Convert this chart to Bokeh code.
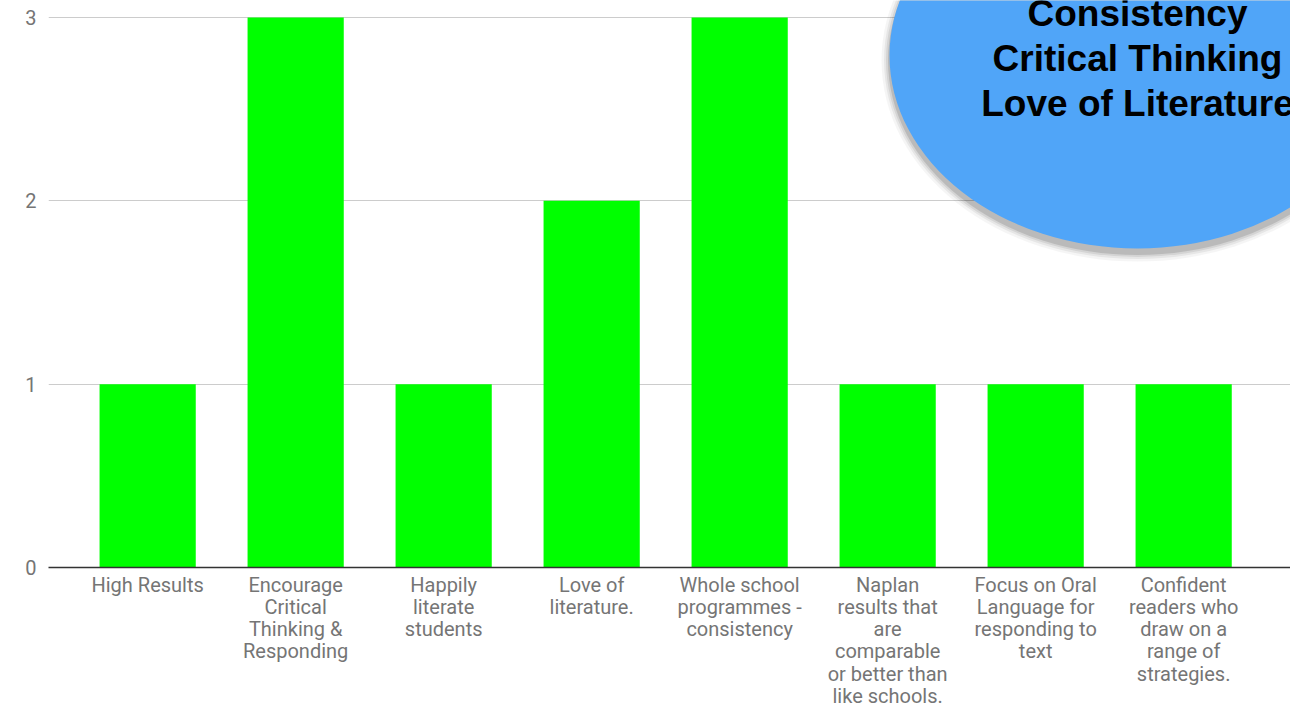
from bokeh.plotting import figure
from bokeh.models import Range1d, FixedTicker, Label
from bokeh.embed import file_html
from bokeh.resources import INLINE

# ---- data ----
categories = [
    "High Results",
    "Encourage Critical Thinking & Responding",
    "Happily literate students",
    "Love of literature.",
    "Whole school programmes - consistency",
    "Naplan results that are comparable or better than like schools.",
    "Focus on Oral Language for responding to text",
    "Confident readers who draw on a range of strategies.",
]
tick_labels = [
    "High Results",
    "Encourage\nCritical\nThinking &\nResponding",
    "Happily\nliterate\nstudents",
    "Love of\nliterature.",
    "Whole school\nprogrammes -\nconsistency",
    "Naplan\nresults that\nare\ncomparable\nor better than\nlike schools.",
    "Focus on Oral\nLanguage for\nresponding to\ntext",
    "Confident\nreaders who\ndraw on a\nrange of\nstrategies.",
]
values = [1, 3, 1, 2, 3, 1, 1, 1]
y_ticks = [0, 1, 2, 3]
callout_lines = ["Consistency", "Critical Thinking", "Love of Literature"]

# ---- figure ----
W, H = 1290, 711
BL, BR, BT, BB = 48, 0, 0, 144
Y_END = 3.093
X_START = -0.67
frame_w = W - BL - BR
frame_h = H - BT - BB
X_END = X_START + frame_w / 148.0

p = figure(width=W, height=H, output_backend="svg", toolbar_location=None,
           x_range=Range1d(X_START, X_END), y_range=Range1d(0, Y_END),
           min_border_left=BL, min_border_right=BR, min_border_top=BT,
           min_border_bottom=BB)
p.outline_line_color = None
p.background_fill_color = "white"

xs = list(range(len(categories)))
p.vbar(x=xs, top=values, width=0.65, fill_color="#00ff00", line_color=None)

# axes
p.xaxis.ticker = FixedTicker(ticks=xs)
p.xaxis.major_label_overrides = {i: t for i, t in enumerate(tick_labels)}
p.xaxis.major_label_text_font = "Roboto"
p.xaxis.major_label_text_font_size = "20px"
p.xaxis.major_label_text_color = "#757575"
p.xaxis.major_label_text_line_height = 0.93
p.xaxis.major_label_standoff = 5
p.xaxis.major_tick_line_color = None
p.xaxis.major_tick_out = 0
p.xaxis.major_tick_in = 0
p.xaxis.minor_tick_line_color = None
p.xaxis.axis_line_color = "#333333"
p.xaxis.axis_line_width = 1.5

p.yaxis.ticker = FixedTicker(ticks=y_ticks)
p.yaxis.major_label_text_font = "Roboto"
p.yaxis.major_label_text_font_size = "20px"
p.yaxis.major_label_text_color = "#757575"
p.yaxis.major_label_standoff = 12
p.yaxis.axis_line_color = None
p.yaxis.major_tick_line_color = None
p.yaxis.major_tick_out = 0
p.yaxis.minor_tick_line_color = None

p.xgrid.grid_line_color = None
p.ygrid.grid_line_color = "#cccccc"
p.ygrid.grid_line_width = 1.2

# ---- callout ellipse (annotation) ----
px_x = (X_END - X_START) / frame_w
px_y = Y_END / frame_h
cx = X_START + (1137 - BL) * px_x
cy = Y_END - 55 * px_y
for grow, alpha in [(16, 0.04), (11, 0.06), (7, 0.08), (3, 0.12)]:
    p.ellipse(x=[cx], y=[cy - 5 * px_y], width=[496 + grow], height=[386 + grow],
              width_units="screen", height_units="screen",
              fill_color="black", fill_alpha=alpha, line_color=None)
p.ellipse(x=[cx], y=[cy], width=[496], height=[386],
          width_units="screen", height_units="screen",
          fill_color="#50a5f8", line_color=None)

baselines = [13, 58, 103]
for txt, ly in zip(callout_lines, baselines):
    p.add_layout(Label(x=cx, y=Y_END - ly * px_y, text=txt,
                       text_font="Liberation Sans", text_font_style="bold",
                       text_font_size="37px", text_color="black",
                       text_align="center", text_baseline="alphabetic"))

open("out.html", "w").write(file_html(p, INLINE))
